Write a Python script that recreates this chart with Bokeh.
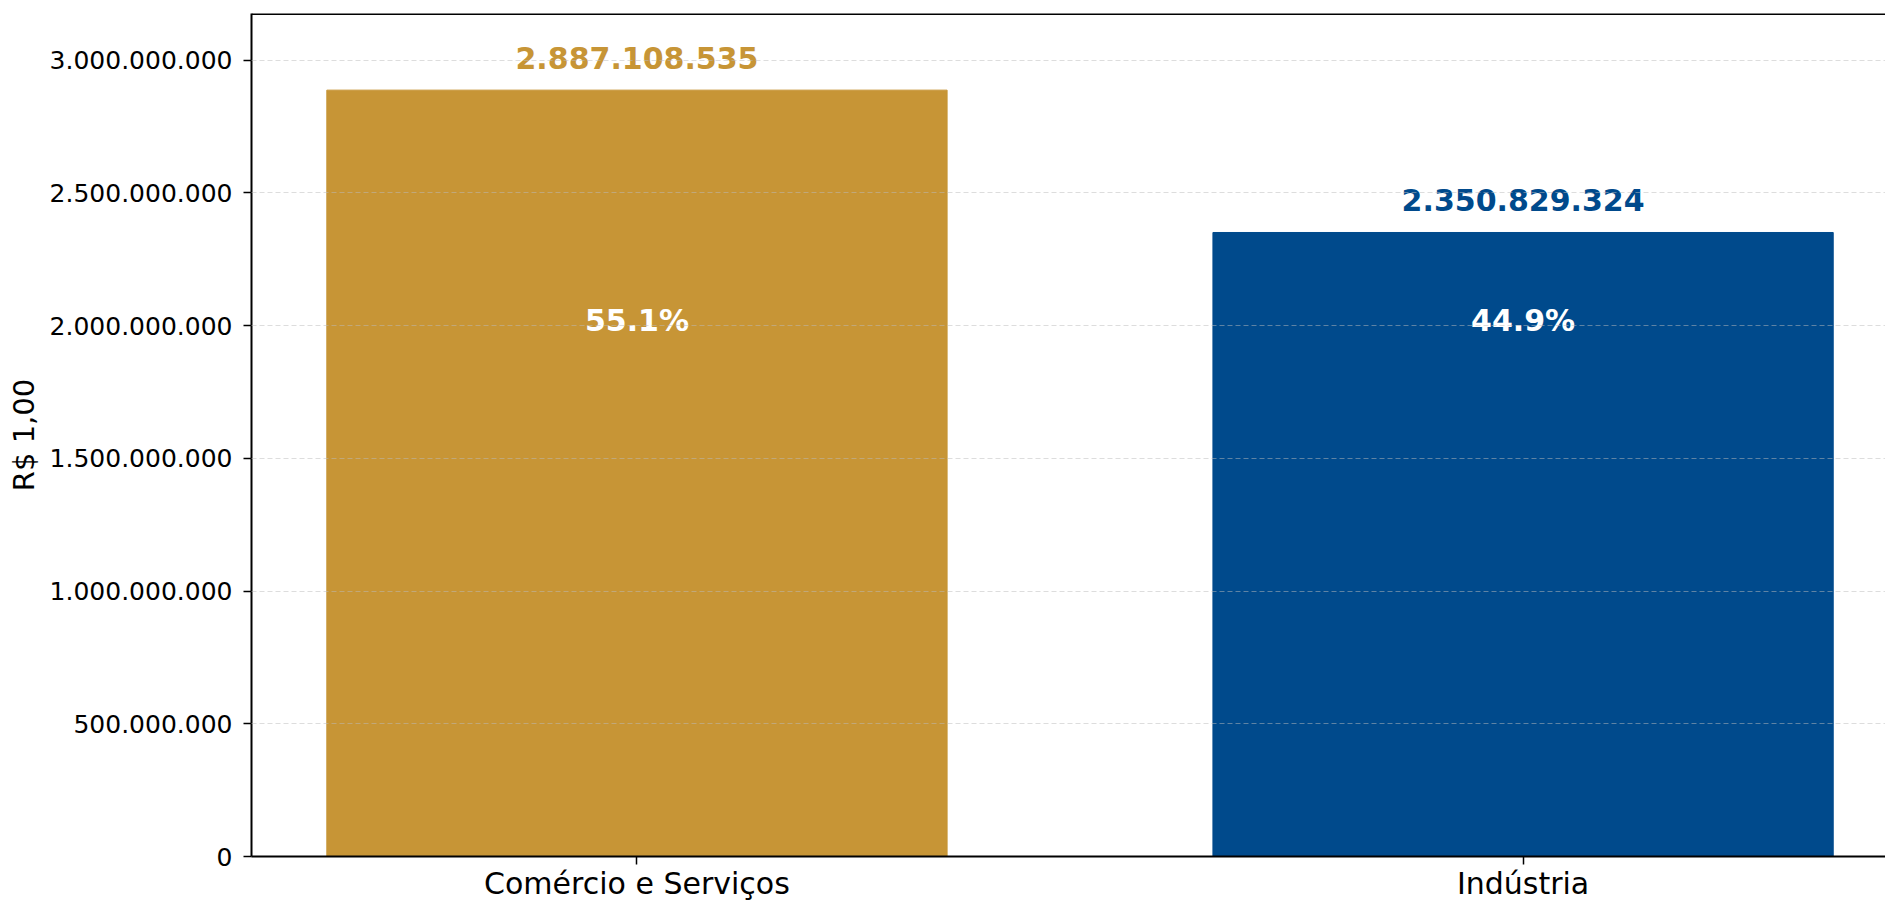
from bokeh.plotting import figure
from bokeh.models import Range1d, FixedTicker, SingleIntervalTicker, Span, ColumnDataSource, CustomJSTickFormatter
from bokeh.core.properties import value
from bokeh.embed import file_html
from bokeh.resources import INLINE

categories = ["Comércio e Serviços", "Indústria"]
values = [2887108535, 2350829324]
colors = ["#C79536", "#004A8C"]

FONT = "DejaVu Sans"

xs = list(range(len(categories)))
total = sum(values)
vmax = max(values)
value_labels = [f"{v:,}".replace(",", ".") for v in values]
pct_labels = [f"{v / total * 100:.1f}%" for v in values]

src = ColumnDataSource(dict(
    x=xs, v=values, color=colors, vlab=value_labels, plab=pct_labels,
    py=[vmax * 0.7] * len(values),
))

y_top = vmax * 1.1

p = figure(width=1885, height=903, output_backend="svg", toolbar_location=None,
           x_range=Range1d(-0.435, 1.409), y_range=Range1d(0, y_top),
           min_border_left=251, min_border_right=0, min_border_top=13, min_border_bottom=0)
p.outline_line_color = None
p.background_fill_color = "white"
p.border_fill_color = "white"

p.vbar(x="x", top="v", width=0.7, color="color", source=src)

p.text(x="x", y="v", text="vlab", source=src, text_color="color",
       text_font=value(FONT), text_font_style="bold", text_font_size="30px",
       text_align="center", text_baseline="bottom", y_offset=-21)
p.text(x="x", y="py", text="plab", source=src, text_color="white",
       text_font=value(FONT), text_font_style="bold", text_font_size="30px",
       text_align="center", text_baseline="middle")

p.add_layout(Span(location=y_top, dimension="width", line_color="black", line_width=3))

p.xgrid.grid_line_color = None
p.ygrid.grid_line_color = "#bbbbbb"
p.ygrid.grid_line_alpha = 0.5
p.ygrid.grid_line_dash = "5 3"
p.ygrid.grid_line_width = 1
p.ygrid.level = "overlay"

p.yaxis.ticker = SingleIntervalTicker(interval=500000000, num_minor_ticks=0)
p.yaxis.formatter = CustomJSTickFormatter(code="""
return Math.round(tick).toString().replace(/\\B(?=(\\d{3})+(?!\\d))/g, ".");
""")
p.xaxis.ticker = FixedTicker(ticks=xs)
p.xaxis.major_label_overrides = {float(i): c for i, c in zip(xs, categories)}

for ax in (p.xaxis, p.yaxis):
    ax.axis_line_width = 2
    ax.axis_line_color = "black"
    ax.major_tick_line_width = 1.5
    ax.major_tick_line_color = "black"
    ax.major_tick_out = 8
    ax.major_tick_in = 0
    ax.minor_tick_line_color = None
    ax.major_label_text_font = FONT
    ax.major_label_text_color = "black"

p.yaxis.major_label_text_font_size = "25px"
p.yaxis.major_label_standoff = 11
p.xaxis.major_label_text_font_size = "30px"
p.xaxis.major_label_standoff = 1

p.yaxis.axis_label = "R$ 1,00"
p.yaxis.axis_label_text_font = FONT
p.yaxis.axis_label_text_font_size = "29px"
p.yaxis.axis_label_text_font_style = "normal"
p.yaxis.axis_label_text_color = "black"
p.yaxis.axis_label_standoff = 6

open("out.html", "w").write(file_html(p, INLINE))
